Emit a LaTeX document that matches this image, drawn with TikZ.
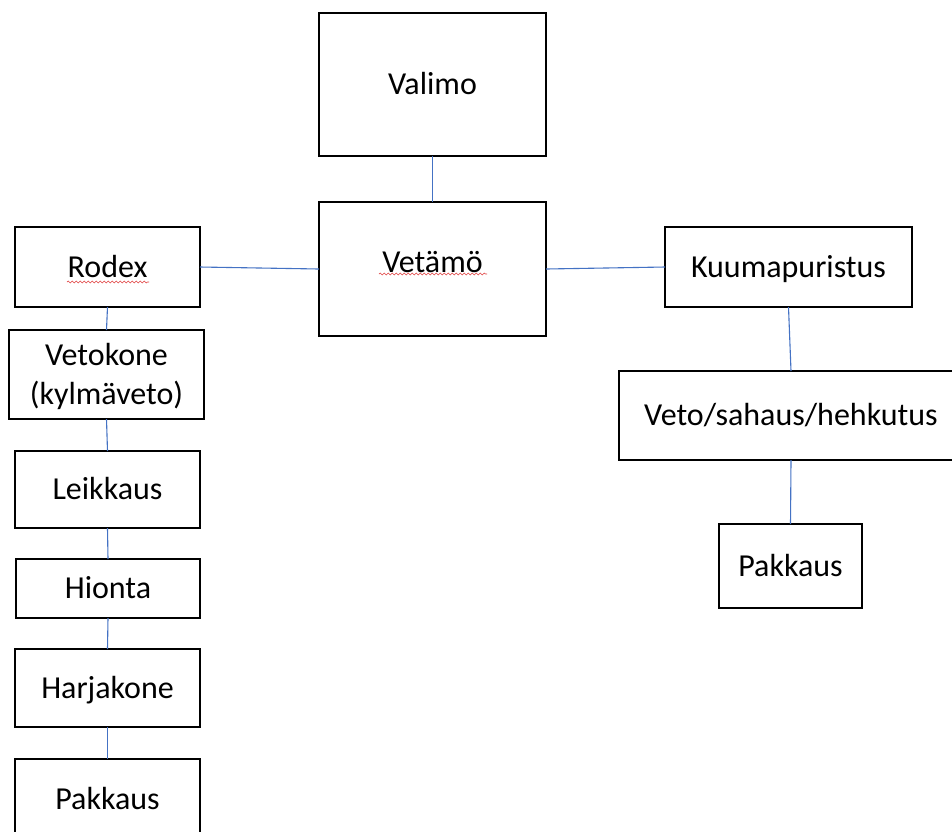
\documentclass[tikz,border=0pt]{standalone}
\usepackage{fontspec}
\setmainfont{Carlito}
\usetikzlibrary{calc,decorations.pathmorphing}
\definecolor{linkblue}{HTML}{4472C4}
\definecolor{spellred}{HTML}{E04040}
\begin{document}
\begin{tikzpicture}[x=1pt,y=-1pt,
  box/.style={draw=black,line width=2.6pt,fill=white,inner sep=0pt,outer sep=0pt,
    font=\fontsize{32}{39}\selectfont,text height=20pt,text depth=0pt,align=center},
  link/.style={draw=linkblue,line width=1.1pt},
  squiggle/.style={draw=spellred,line width=0.6pt,decorate,
    decoration={snake,amplitude=0.9pt,segment length=4pt}}]
\useasboundingbox (0,0) rectangle (952,831);
\clip (0,0) rectangle (952,831);
\fill[white] (0,0) rectangle (952,831);
% nodes
\node[box,minimum width=227pt,minimum height=143pt] (valimo) at (432.5,84.5) {Valimo};
\node[box,minimum width=227pt,minimum height=134pt] (vetamo) at (432.5,269) {\raisebox{7pt}{Vetämö}};
\node[box,minimum width=185pt,minimum height=80pt] (rodex) at (107.5,267) {Rodex};
\node[box,minimum width=195pt,minimum height=89pt,text height=59pt,text depth=0pt] (vetokone) at (106.5,374.5) {Vetokone\\(kylmäveto)};
\node[box,minimum width=185pt,minimum height=77pt] (leikkaus) at (107.5,489.5) {Leikkaus};
\node[box,minimum width=184pt,minimum height=59pt] (hionta) at (108,588.5) {Hionta};
\node[box,minimum width=185pt,minimum height=78pt] (harjakone) at (107.5,688) {Harjakone};
\node[box,minimum width=185pt,minimum height=80pt] (pakkausL) at (107.5,799) {Pakkaus};
\node[box,minimum width=247pt,minimum height=80pt] (kuuma) at (788.5,267) {Kuumapuristus};
\node[box,minimum width=344pt,minimum height=89pt] (veto) at (791,415.5) {Veto/sahaus/hehkutus};
\node[box,minimum width=143pt,minimum height=84pt] (pakkausR) at (790.5,566) {Pakkaus};
% connectors
\draw[link] (valimo.south) -- (vetamo.north);
\draw[link] (rodex.east) -- (vetamo.west);
\draw[link] (vetamo.east) -- (kuuma.west);
\draw[link] (rodex.south) -- (vetokone.north);
\draw[link] (vetokone.south) -- (leikkaus.north);
\draw[link] (leikkaus.south) -- (hionta.north);
\draw[link] (hionta.south) -- (harjakone.north);
\draw[link] (harjakone.south) -- (pakkausL.north);
\draw[link] (kuuma.south) -- (veto.north);
\draw[link] (veto.south) -- (pakkausR.north);
% spell-check underlines
\draw[squiggle] ($(rodex.center)+(-40.5,15)$) -- ($(rodex.center)+(41.5,15)$);
\draw[squiggle] ($(vetamo.center)+(-53.5,5)$) -- ($(vetamo.center)+(54.5,5)$);
\end{tikzpicture}
\end{document}
